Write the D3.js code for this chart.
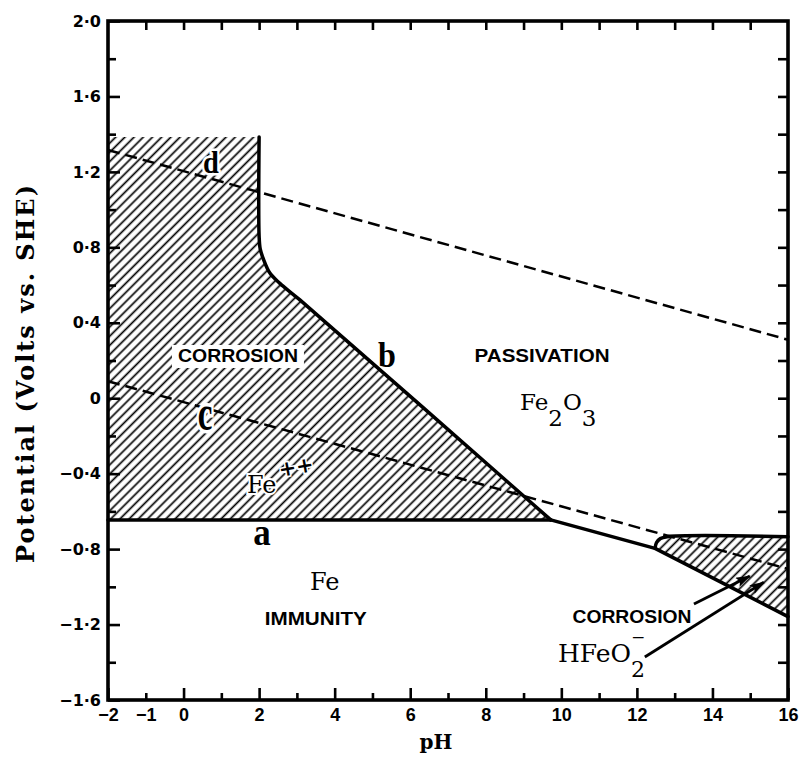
<!DOCTYPE html>
<html>
<head>
<meta charset="utf-8">
<script src="https://cdn.jsdelivr.net/npm/d3@7"></script>
<style>
  body { margin: 0; background: #fff; }
  svg { display: block; }
</style>
</head>
<body>
<svg id="chart" width="800" height="757"></svg>
<script>
// Potential–pH (Pourbaix) diagram for iron in water at 25 °C

// axis ranges
const pHRange = [-2, 16];
const potentialRange = [-1.6, 2.0];

// ticks
const pHTicks = [-2, -1, 0, 1, 2, 3, 4, 5, 6, 7, 8, 9, 10, 11, 12, 13, 14, 15, 16];
const pHLabelled = [-2, -1, 0, 2, 4, 6, 8, 10, 12, 14, 16];
const potentialTicks = [-1.6, -1.4, -1.2, -1.0, -0.8, -0.6, -0.4, -0.2, 0, 0.2, 0.4, 0.6, 0.8, 1.0, 1.2, 1.4, 1.6, 1.8, 2.0];
const potentialLabelled = [-1.6, -1.2, -0.8, -0.4, 0, 0.4, 0.8, 1.2, 1.6, 2.0];

// equilibrium boundaries, points are [pH, E (V vs. SHE)]
const lineA = [[-2, -0.645], [9.72, -0.645]];                       // Fe / Fe++
const lineB = [[2.0, 1.385], [2.0, 0.86], [2.03, 0.79], [2.11, 0.74],
               [2.29, 0.662], [2.55, 0.609], [3.08, 0.521], [9.72, -0.645]]; // Fe++ / Fe2O3
const lineFeOxide = [[9.72, -0.645], [12.48, -0.796], [16, -1.158]]; // Fe / oxide, Fe / HFeO2-
const lineHFeO2 = [[12.48, -0.796], [12.52, -0.765], [12.62, -0.744], [12.8, -0.734], [16, -0.734]]; // HFeO2- / Fe2O3
const lineC = [[-2, 0.09], [16, -0.905]];                            // hydrogen evolution
const lineD = [[-2, 1.316], [16, 0.31]];                             // oxygen evolution
const corrosionCeiling = 1.385;                                      // upper limit of the acid corrosion field

const margin = { left: 108, right: 12, top: 21, bottom: 57 };
const W = 800, H = 757;

const x = d3.scaleLinear().domain(pHRange).range([margin.left, W - margin.right]);
const y = d3.scaleLinear().domain(potentialRange).range([H - margin.bottom, margin.top]);

const svg = d3.select("#chart");
const line = d3.line().x(d => x(d[0])).y(d => y(d[1]));
const smooth = d3.line().x(d => x(d[0])).y(d => y(d[1])).curve(d3.curveCatmullRom.alpha(0.5));
const cont = gen => gen.replace(/^M/, "L");   // continue an existing path with a generated one

// hatch pattern and arrowhead
const defs = svg.append("defs");
defs.append("pattern")
  .attr("id", "hatch")
  .attr("patternUnits", "userSpaceOnUse")
  .attr("width", 6.5).attr("height", 20)
  .attr("patternTransform", "rotate(45)")
  .append("line")
  .attr("x1", 3.25).attr("y1", -2).attr("x2", 3.25).attr("y2", 22)
  .attr("stroke", "#000").attr("stroke-width", 1.7);

defs.append("marker")
  .attr("id", "arrow")
  .attr("viewBox", "0 0 15 10")
  .attr("refX", 14).attr("refY", 5)
  .attr("markerWidth", 15).attr("markerHeight", 10)
  .attr("markerUnits", "userSpaceOnUse")
  .attr("orient", "auto")
  .append("path").attr("d", "M0,0 L15,5 L0,10 L3,5 Z").attr("fill", "#000");

// corrosion field (Fe++): ceiling, line b, line a, left frame
svg.append("path")
  .attr("d", `M${x(pHRange[0])},${y(corrosionCeiling)}` + cont(smooth(lineB)) +
             `L${x(pHRange[0])},${y(lineA[0][1])}Z`)
  .attr("fill", "url(#hatch)");

// corrosion field (HFeO2-): top boundary, right frame, Fe / HFeO2- line
const lastF = lineFeOxide[lineFeOxide.length - 1];
svg.append("path")
  .attr("d", smooth(lineHFeO2) + `L${x(lastF[0])},${y(lastF[1])}Z`)
  .attr("fill", "url(#hatch)");

// water stability lines
[lineC, lineD].forEach(l => {
  svg.append("path").attr("d", line(l))
    .attr("fill", "none").attr("stroke", "#000")
    .attr("stroke-width", 2.5).attr("stroke-dasharray", "12,6");
});

// solid boundaries
[[lineA, line], [lineB, smooth], [lineFeOxide, line], [lineHFeO2, smooth]].forEach(([l, gen]) => {
  svg.append("path").attr("d", gen(l))
    .attr("fill", "none").attr("stroke", "#000")
    .attr("stroke-width", 3.5).attr("stroke-linejoin", "round").attr("stroke-linecap", "round");
});

// axes
const near = (a, b) => Math.abs(a - b) < 1e-9;
const isMajorE = d => potentialLabelled.some(v => near(v, d));
const fmtPH = d => pHLabelled.includes(d) ? String(d).replace("-", "\u2212") : "";
const fmtE = d => {
  if (!isMajorE(d)) return "";
  if (near(d, 0)) return "0";
  return d3.format(".1f")(d).replace(".", "\u00b7").replace("-", "\u2212");
};

const gB = svg.append("g").attr("transform", `translate(0,${y(potentialRange[0])})`)
  .call(d3.axisBottom(x).tickValues(pHTicks).tickSizeInner(-7).tickSizeOuter(0).tickPadding(8).tickFormat(fmtPH));
gB.selectAll(".tick line").filter(d => d % 2 === 0).attr("y2", -12);

const gL = svg.append("g").attr("transform", `translate(${x(pHRange[0])},0)`)
  .call(d3.axisLeft(y).tickValues(potentialTicks).tickSizeInner(-8).tickSizeOuter(0).tickPadding(7).tickFormat(fmtE));
gL.selectAll(".tick line").filter(isMajorE).attr("x2", 12);

const gT = svg.append("g").attr("transform", `translate(0,${y(potentialRange[1])})`)
  .call(d3.axisTop(x).tickValues(pHTicks.slice(1, -1)).tickSizeInner(-9).tickSizeOuter(0).tickFormat(""));

const gR = svg.append("g").attr("transform", `translate(${x(pHRange[1])},0)`)
  .call(d3.axisRight(y).tickValues(potentialTicks.slice(1, -1)).tickSizeInner(-10).tickSizeOuter(0).tickFormat(""));

[gB, gL, gT, gR].forEach(g => {
  g.select(".domain").remove();
  g.selectAll(".tick line").attr("stroke", "#000").attr("stroke-width", 2.6);
  g.selectAll(".tick text").style("font-weight", "bold").attr("fill", "#000");
});
gB.selectAll(".tick text").style("font-family", "'Liberation Sans', Arial, sans-serif").style("font-size", "18px");
gL.selectAll(".tick text").style("font-family", "'DejaVu Sans', Verdana, sans-serif").style("font-size", "16px");

// frame
svg.append("rect")
  .attr("x", x(pHRange[0])).attr("y", y(potentialRange[1]))
  .attr("width", x(pHRange[1]) - x(pHRange[0]))
  .attr("height", y(potentialRange[0]) - y(potentialRange[1]))
  .attr("fill", "none").attr("stroke", "#000").attr("stroke-width", 3.6);

// axis titles
const slab = "'DejaVu Serif', 'Liberation Serif', serif";
svg.append("text")
  .attr("transform", "translate(34,374) rotate(-90)")
  .attr("text-anchor", "middle")
  .attr("font-family", slab).attr("font-weight", "bold").attr("font-size", 24)
  .attr("textLength", 378).attr("lengthAdjust", "spacing")
  .text("Potential (Volts vs. SHE)");

svg.append("text")
  .attr("x", 436).attr("y", 749)
  .attr("text-anchor", "middle")
  .attr("font-family", slab).attr("font-weight", "bold").attr("font-size", 20)
  .text("pH");

// region labels
const sans = "'Liberation Sans', Arial, sans-serif";
function capsLabel(pH, E, txt, len, clear) {
  const t = svg.append("text")
    .attr("x", x(pH)).attr("y", y(E))
    .attr("text-anchor", "middle")
    .attr("font-family", sans).attr("font-weight", "bold").attr("font-size", 18)
    .attr("textLength", len).attr("lengthAdjust", "spacingAndGlyphs")
    .text(txt);
  if (clear) {
    const b = t.node().getBBox();
    svg.insert("rect", () => t.node())
      .attr("x", b.x - 6).attr("y", b.y - 1).attr("width", b.width + 12).attr("height", b.height + 3)
      .attr("fill", "#fff");
  }
}
capsLabel(1.44, 0.192, "CORROSION", 120, true);
capsLabel(9.49, 0.192, "PASSIVATION", 135, false);
capsLabel(3.50, -1.203, "IMMUNITY", 102, false);
capsLabel(11.87, -1.19, "CORROSION", 119, false);

// boundary letters
const serif = "'Liberation Serif', 'Times New Roman', serif";
function letter(pH, E, txt, size, sy, halo) {
  const t = svg.append("text")
    .attr("transform", `translate(${x(pH)},${y(E)}) scale(0.92,${sy})`)
    .attr("text-anchor", "middle")
    .attr("font-family", serif).attr("font-weight", "bold").attr("font-size", size)
    .text(txt);
  if (halo) t.attr("stroke", "#fff").attr("stroke-width", 5).attr("paint-order", "stroke");
}
letter(0.726, 1.194, "d", 31, 1.0, true);
letter(0.567, -0.169, "c", 36, 1.4, true);
letter(2.076, -0.778, "a", 38, 1.0, false);
letter(5.385, 0.165, "b", 35, 1.05, false);

// species labels
function species(pH, E, size, halo) {
  const t = svg.append("text")
    .attr("x", x(pH)).attr("y", y(E))
    .attr("font-family", slab).attr("font-size", size);
  if (halo) t.attr("stroke", "#fff").attr("stroke-width", 4).attr("paint-order", "stroke");
  return t;
}

const fe2o3 = species(8.905, -0.063, 23, false);
fe2o3.append("tspan").text("Fe");
fe2o3.append("tspan").attr("dy", 16).text("2");
fe2o3.append("tspan").attr("dy", -16).text("O");
fe2o3.append("tspan").attr("dy", 16).text("3");

species(3.347, -1.017, 24, false).text("Fe");

species(1.679, -0.503, 24, true).text("Fe");
svg.append("text")
  .attr("transform", `translate(${x(2.553)},${y(-0.418)}) rotate(-10)`)
  .attr("font-family", slab).attr("font-weight", "bold").attr("font-size", 21)
  .attr("stroke", "#fff").attr("stroke-width", 3).attr("paint-order", "stroke")
  .text("++");

// HFeO2- with subscript and charge
const hf = species(9.911, -1.399, 25, false);
hf.append("tspan").text("HFeO");
hf.append("tspan").attr("font-size", 22).attr("dy", 15).text("2");
hf.append("tspan").attr("font-size", 17).attr("dx", -14).attr("dy", -34).text("\u2212");

// pointers to the alkaline corrosion field
const pointers = [
  { from: [13.51, -1.091], to: [14.99, -0.943] },
  { from: [12.21, -1.372], to: [15.36, -0.975] }
];
pointers.forEach(p => {
  svg.append("line")
    .attr("x1", x(p.from[0])).attr("y1", y(p.from[1]))
    .attr("x2", x(p.to[0])).attr("y2", y(p.to[1]))
    .attr("stroke", "#000").attr("stroke-width", 2.8)
    .attr("marker-end", "url(#arrow)");
});
</script>
</body>
</html>
